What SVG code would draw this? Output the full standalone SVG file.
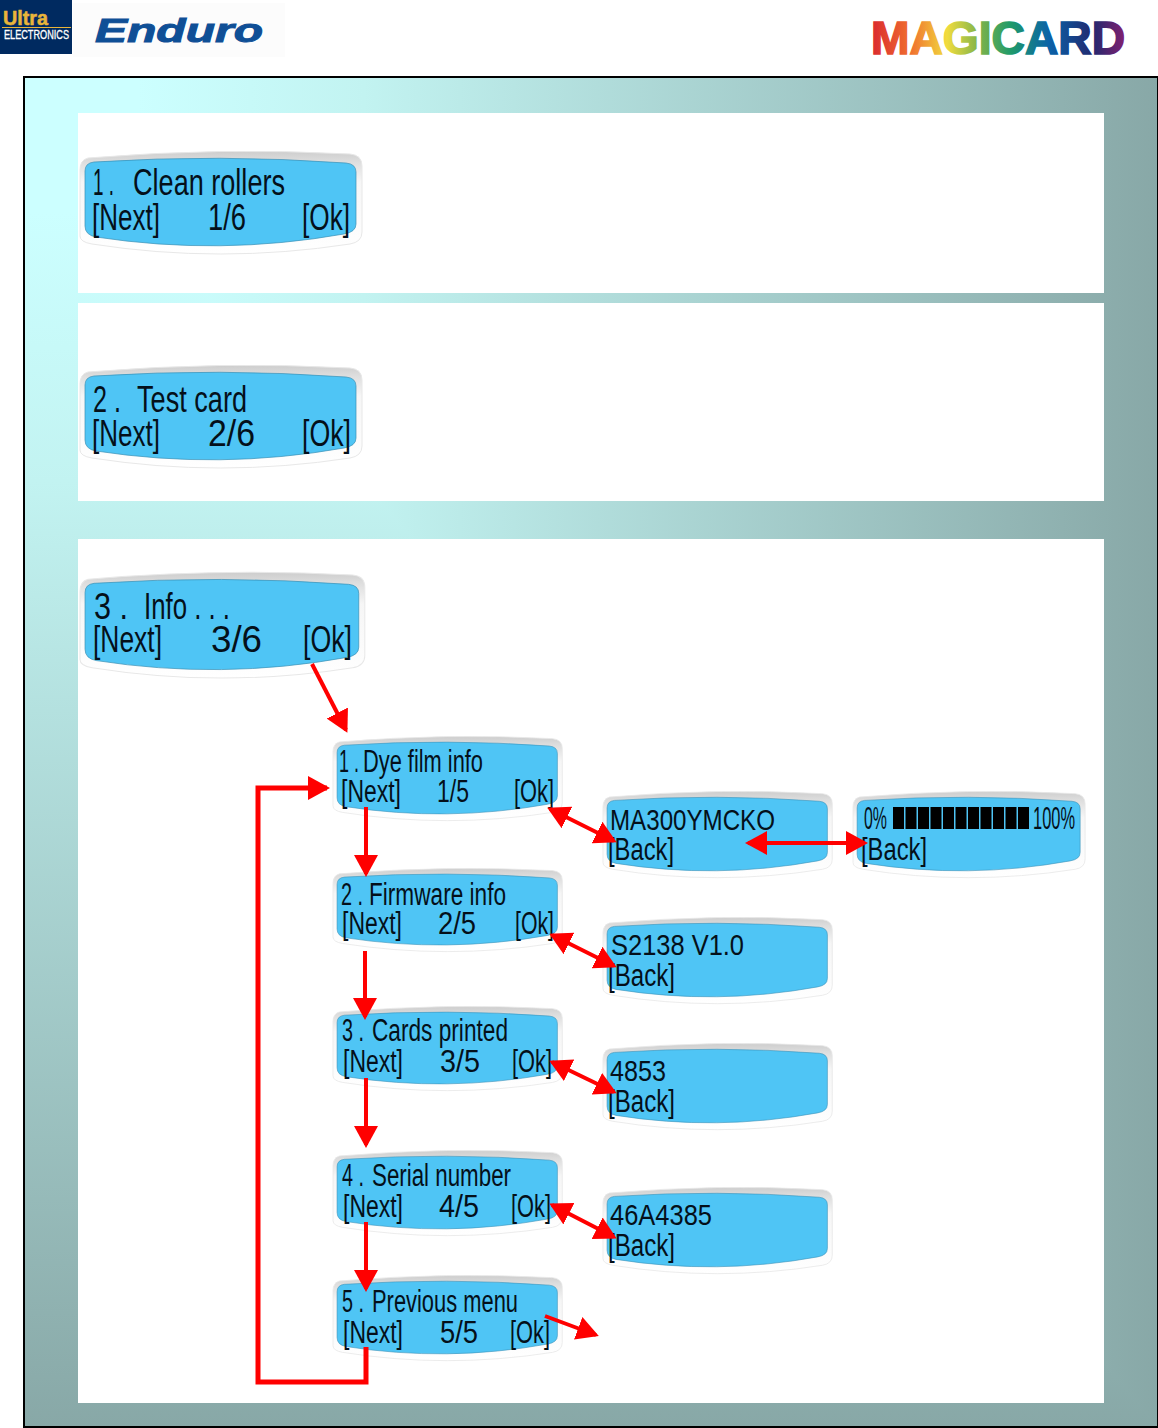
<svg xmlns="http://www.w3.org/2000/svg" xmlns:xlink="http://www.w3.org/1999/xlink" width="1158" height="1428" viewBox="0 0 1158 1428">
<style>
text{font-family:"Liberation Sans",Arial,sans-serif;fill:#04101a}
.l{font-size:36px}
.m{font-size:31px}
.w{font-size:30px}
.cn{fill:none;stroke:#f00;stroke-width:4}
.s{marker-end:url(#h)}
.d{marker-start:url(#h);marker-end:url(#h)}
</style>
<defs>
<linearGradient id="gh" gradientUnits="userSpaceOnUse" x1="24" y1="0" x2="1158" y2="0"><stop offset="0.1" stop-color="#ccffff"/><stop offset="0.3" stop-color="#c2f3f1"/><stop offset="1" stop-color="#88a8a7"/></linearGradient>
<linearGradient id="gv" gradientUnits="userSpaceOnUse" x1="0" y1="77" x2="0" y2="1427"><stop offset="0.1" stop-color="#ccffff"/><stop offset="0.3" stop-color="#c2f3f1"/><stop offset="1" stop-color="#88a8a7"/></linearGradient>
<linearGradient id="bez" x1="0" y1="0" x2="0" y2="1"><stop offset="0" stop-color="#cdcdcd"/><stop offset="0.09" stop-color="#dcdcdc"/><stop offset="0.3" stop-color="#f6f6f6"/><stop offset="1" stop-color="#ffffff"/></linearGradient>
<linearGradient id="mg" gradientUnits="userSpaceOnUse" x1="870" y1="0" x2="1126" y2="0"><stop offset="0" stop-color="#d9262e"/><stop offset="0.16" stop-color="#f0702f"/><stop offset="0.3" stop-color="#f1dc3e"/><stop offset="0.43" stop-color="#7cb24a"/><stop offset="0.55" stop-color="#1f9a6a"/><stop offset="0.7" stop-color="#0a62a8"/><stop offset="0.87" stop-color="#22286e"/><stop offset="1" stop-color="#842070"/></linearGradient>
<marker id="h" markerUnits="userSpaceOnUse" markerWidth="26" markerHeight="26" refX="19" refY="13" orient="auto-start-reverse"><path d="M0 1L22 13L0 25Z" fill="#f00"/></marker>
<g id="lcd">
<path d="M8 6Q0 8 0 18L0 84Q0 90 12 92Q140 112 270 92Q282 90 282 80L282 14Q282 3 270 2Q140 -5 8 6Z" fill="url(#bez)" stroke="#e8e8e8" stroke-width="1"/>
<path d="M14 10Q140 2 266 11Q276 12 276 20L276 72Q276 80 264 82Q140 104 16 85Q5 83 5 74L5 19Q5 11 14 10Z" fill="#4fc5f5" stroke="#3a8fb5" stroke-width="0.7"/>
</g>
</defs>
<g id="header">
<rect x="0" y="0" width="72" height="54" fill="#002a60"/>
<text x="3" y="25" style="font-size:20px;font-weight:700;fill:#e9b53a;stroke:#e9b53a;stroke-width:.5" textLength="45" lengthAdjust="spacingAndGlyphs">Ultra</text>
<rect x="2" y="27" width="69" height="1" fill="#e9b53a"/>
<text x="4" y="39" style="font-size:12px;fill:#fff;stroke:#fff;stroke-width:.3" textLength="65" lengthAdjust="spacingAndGlyphs">ELECTRONICS</text>
<rect x="73" y="3" width="212" height="54" fill="#fcfcfc"/>
<text x="95" y="42" style="font-size:34px;font-weight:700;font-style:italic;fill:#0f4f96;stroke:#0f4f96;stroke-width:1" textLength="168" lengthAdjust="spacingAndGlyphs">Enduro</text>
<text x="871" y="54" style="font-size:47px;font-weight:700;fill:url(#mg);stroke:url(#mg);stroke-width:1.6" textLength="254" lengthAdjust="spacingAndGlyphs">MAGICARD</text>
</g>
<g id="background">
<rect x="24" y="77" width="1134" height="1350" fill="url(#gh)"/>
<polygon points="24,77 1158,1427 24,1427" fill="url(#gv)"/>
<rect x="24" y="77" width="1134" height="1350" fill="none" stroke="#000" stroke-width="2"/>
<rect x="78" y="113" width="1026" height="180" fill="#fff"/>
<rect x="78" y="303" width="1026" height="198" fill="#fff"/>
<rect x="78" y="539" width="1026" height="864" fill="#fff"/>
</g>
<g id="lcd-clean-rollers">
<use xlink:href="#lcd" href="#lcd" transform="translate(80 152)"/>
<text class="l" x="93" y="195" textLength="21" lengthAdjust="spacingAndGlyphs">1 .</text>
<text class="l" x="133" y="195" textLength="152" lengthAdjust="spacingAndGlyphs">Clean rollers</text>
<text class="l" x="92" y="230" textLength="68" lengthAdjust="spacingAndGlyphs">[Next]</text>
<text class="l" x="208" y="230" textLength="38" lengthAdjust="spacingAndGlyphs">1/6</text>
<text class="l" x="302" y="230" textLength="48" lengthAdjust="spacingAndGlyphs">[Ok]</text>
</g>
<g id="lcd-test-card">
<use xlink:href="#lcd" href="#lcd" transform="translate(80 366)"/>
<text class="l" x="93" y="412" textLength="28" lengthAdjust="spacingAndGlyphs">2 .</text>
<text class="l" x="137" y="412" textLength="110" lengthAdjust="spacingAndGlyphs">Test card</text>
<text class="l" x="92" y="446" textLength="68" lengthAdjust="spacingAndGlyphs">[Next]</text>
<text class="l" x="208" y="446" textLength="47" lengthAdjust="spacingAndGlyphs">2/6</text>
<text class="l" x="302" y="446" textLength="49" lengthAdjust="spacingAndGlyphs">[Ok]</text>
</g>
<g id="lcd-info">
<use xlink:href="#lcd" href="#lcd" transform="translate(80 573) scale(1.01 1.03)"/>
<text class="l" x="94" y="619" textLength="34" lengthAdjust="spacingAndGlyphs">3 .</text>
<text class="l" x="144" y="619" textLength="86" lengthAdjust="spacingAndGlyphs">Info . . .</text>
<text class="l" x="93" y="652" textLength="69" lengthAdjust="spacingAndGlyphs">[Next]</text>
<text class="l" x="211" y="652" textLength="51" lengthAdjust="spacingAndGlyphs">3/6</text>
<text class="l" x="303" y="652" textLength="49" lengthAdjust="spacingAndGlyphs">[Ok]</text>
</g>
<g id="lcd-dye-film">
<use xlink:href="#lcd" href="#lcd" transform="translate(333 737) scale(.813 .82)"/>
<text class="m" x="339" y="772" textLength="20" lengthAdjust="spacingAndGlyphs">1 .</text>
<text class="m" x="363" y="772" textLength="120" lengthAdjust="spacingAndGlyphs">Dye film info</text>
<text class="m" x="341" y="802" textLength="60" lengthAdjust="spacingAndGlyphs">[Next]</text>
<text class="m" x="437" y="802" textLength="32" lengthAdjust="spacingAndGlyphs">1/5</text>
<text class="m" x="514" y="802" textLength="40" lengthAdjust="spacingAndGlyphs">[Ok]</text>
</g>
<g id="lcd-firmware">
<use xlink:href="#lcd" href="#lcd" transform="translate(333 869) scale(.813 .81)"/>
<text class="m" x="341" y="905" textLength="22" lengthAdjust="spacingAndGlyphs">2 .</text>
<text class="m" x="369" y="905" textLength="137" lengthAdjust="spacingAndGlyphs">Firmware info</text>
<text class="m" x="342" y="934" textLength="60" lengthAdjust="spacingAndGlyphs">[Next]</text>
<text class="m" x="438" y="934" textLength="38" lengthAdjust="spacingAndGlyphs">2/5</text>
<text class="m" x="515" y="934" textLength="39" lengthAdjust="spacingAndGlyphs">[Ok]</text>
</g>
<g id="lcd-cards-printed">
<use xlink:href="#lcd" href="#lcd" transform="translate(333 1007) scale(.813 .82)"/>
<text class="m" x="342" y="1041" textLength="22" lengthAdjust="spacingAndGlyphs">3 .</text>
<text class="m" x="372" y="1041" textLength="136" lengthAdjust="spacingAndGlyphs">Cards printed</text>
<text class="m" x="343" y="1072" textLength="60" lengthAdjust="spacingAndGlyphs">[Next]</text>
<text class="m" x="440" y="1072" textLength="40" lengthAdjust="spacingAndGlyphs">3/5</text>
<text class="m" x="512" y="1072" textLength="40" lengthAdjust="spacingAndGlyphs">[Ok]</text>
</g>
<g id="lcd-serial-number">
<use xlink:href="#lcd" href="#lcd" transform="translate(333 1151) scale(.813 .83)"/>
<text class="m" x="342" y="1186" textLength="22" lengthAdjust="spacingAndGlyphs">4 .</text>
<text class="m" x="372" y="1186" textLength="139" lengthAdjust="spacingAndGlyphs">Serial number</text>
<text class="m" x="343" y="1217" textLength="60" lengthAdjust="spacingAndGlyphs">[Next]</text>
<text class="m" x="439" y="1217" textLength="40" lengthAdjust="spacingAndGlyphs">4/5</text>
<text class="m" x="511" y="1217" textLength="40" lengthAdjust="spacingAndGlyphs">[Ok]</text>
</g>
<g id="lcd-previous-menu">
<use xlink:href="#lcd" href="#lcd" transform="translate(333 1276) scale(.813 .83)"/>
<text class="m" x="342" y="1312" textLength="22" lengthAdjust="spacingAndGlyphs">5 .</text>
<text class="m" x="372" y="1312" textLength="146" lengthAdjust="spacingAndGlyphs">Previous menu</text>
<text class="m" x="343" y="1343" textLength="60" lengthAdjust="spacingAndGlyphs">[Next]</text>
<text class="m" x="440" y="1343" textLength="38" lengthAdjust="spacingAndGlyphs">5/5</text>
<text class="m" x="510" y="1343" textLength="40" lengthAdjust="spacingAndGlyphs">[Ok]</text>
</g>
<g id="lcd-ma300">
<use xlink:href="#lcd" href="#lcd" transform="translate(603 792) scale(.813 .84)"/>
<text class="w" x="610" y="830" textLength="165" lengthAdjust="spacingAndGlyphs">MA300YMCKO</text>
<text class="m" x="608" y="860" textLength="66" lengthAdjust="spacingAndGlyphs">[Back]</text>
</g>
<g id="lcd-progress">
<use xlink:href="#lcd" href="#lcd" transform="translate(853 792) scale(.823 .84)"/>
<text class="m" x="864" y="829" textLength="23" lengthAdjust="spacingAndGlyphs">0%</text>
<path d="M893 807h11v22h-11zM905.500 807h11v22h-11zM918 807h11v22h-11zM930.500 807h11v22h-11zM943 807h11v22h-11zM955.500 807h11v22h-11zM968 807h11v22h-11zM980.500 807h11v22h-11zM993 807h11v22h-11zM1005.500 807h11v22h-11zM1018 807h11v22h-11z" fill="#000"/>
<text class="m" x="1033" y="829" textLength="42" lengthAdjust="spacingAndGlyphs">100%</text>
<text class="m" x="861" y="860" textLength="66" lengthAdjust="spacingAndGlyphs">[Back]</text>
</g>
<g id="lcd-s2138">
<use xlink:href="#lcd" href="#lcd" transform="translate(603 918) scale(.813 .84)"/>
<text class="w" x="611" y="955" textLength="133" lengthAdjust="spacingAndGlyphs">S2138 V1.0</text>
<text class="m" x="608" y="986" textLength="67" lengthAdjust="spacingAndGlyphs">[Back]</text>
</g>
<g id="lcd-4853">
<use xlink:href="#lcd" href="#lcd" transform="translate(603 1044) scale(.813 .84)"/>
<text class="w" x="610" y="1081" textLength="56" lengthAdjust="spacingAndGlyphs">4853</text>
<text class="m" x="608" y="1112" textLength="67" lengthAdjust="spacingAndGlyphs">[Back]</text>
</g>
<g id="lcd-46a4385">
<use xlink:href="#lcd" href="#lcd" transform="translate(603 1188) scale(.813 .84)"/>
<text class="w" x="610" y="1225" textLength="102" lengthAdjust="spacingAndGlyphs">46A4385</text>
<text class="m" x="608" y="1256" textLength="67" lengthAdjust="spacingAndGlyphs">[Back]</text>
</g>
<g id="connectors">
<path class="cn s" d="M312 664L346 730"/>
<path class="cn s" style="stroke-width:5" d="M366 1347V1382H258V788H327"/>
<path class="cn s" d="M366 807V874"/>
<path class="cn s" d="M365 951V1017"/>
<path class="cn s" d="M366 1078V1145"/>
<path class="cn s" d="M366 1222V1289"/>
<path class="cn d" d="M550 809L614 841"/>
<path class="cn d" d="M552 935L614 966"/>
<path class="cn d" d="M552 1062L614 1092"/>
<path class="cn d" d="M552 1205L614 1237"/>
<path class="cn d" d="M748 843H865"/>
<path class="cn s" d="M545 1316L596 1335"/>
</g>
</svg>
